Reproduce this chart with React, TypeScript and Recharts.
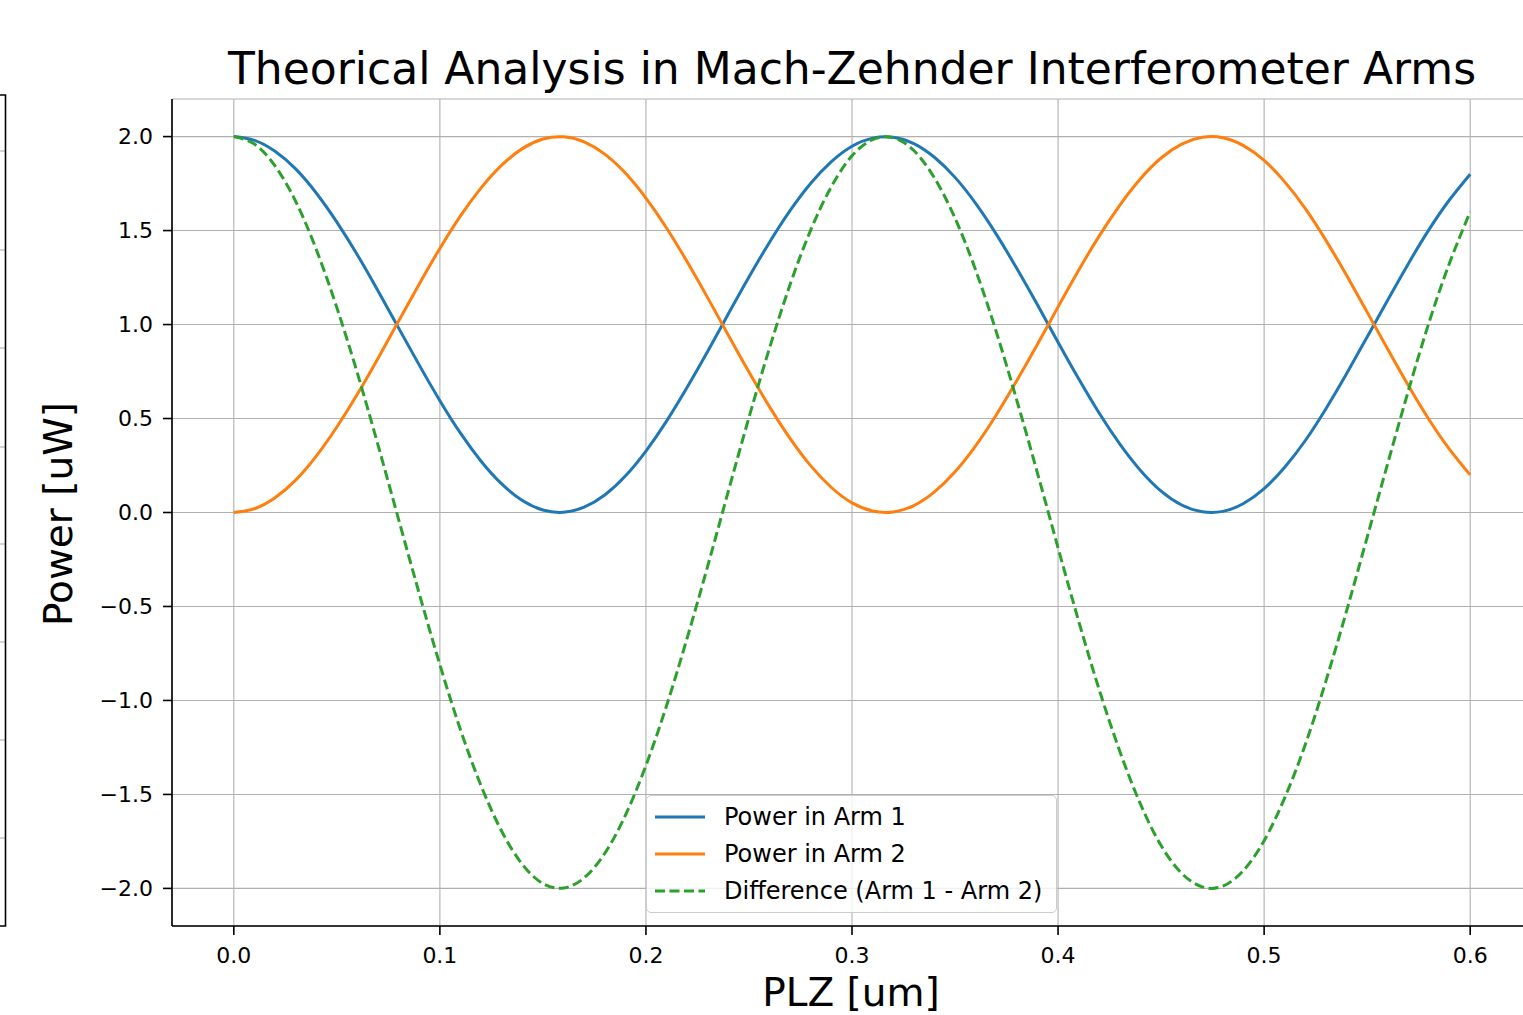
import { CartesianGrid, Line, LineChart, XAxis, YAxis } from "recharts";

// PLZ positions [um], sampled every 0.01
const plz = [
  0.0, 0.01, 0.02, 0.03, 0.04, 0.05, 0.06, 0.07, 0.08, 0.09,
  0.1, 0.11, 0.12, 0.13, 0.14, 0.15, 0.16, 0.17, 0.18, 0.19,
  0.2, 0.21, 0.22, 0.23, 0.24, 0.25, 0.26, 0.27, 0.28, 0.29,
  0.3, 0.31, 0.32, 0.33, 0.34, 0.35, 0.36, 0.37, 0.38, 0.39,
  0.4, 0.41, 0.42, 0.43, 0.44, 0.45, 0.46, 0.47, 0.48, 0.49,
  0.5, 0.51, 0.52, 0.53, 0.54, 0.55, 0.56, 0.57, 0.58, 0.59,
  0.6,
];

// values [uW]
const arm1 = [
  2.0, 1.98, 1.922, 1.828, 1.7, 1.545, 1.37, 1.179, 0.981, 0.784,
  0.595, 0.422, 0.273, 0.152, 0.064, 0.013, 0.001, 0.028, 0.093, 0.194,
  0.327, 0.486, 0.666, 0.858, 1.057, 1.253, 1.438, 1.607, 1.752, 1.867,
  1.949, 1.992, 1.997, 1.963, 1.89, 1.783, 1.645, 1.481, 1.298, 1.105,
  0.906, 0.711, 0.528, 0.364, 0.224, 0.114, 0.04, 0.004, 0.006, 0.048,
  0.127, 0.241, 0.383, 0.552, 0.738, 0.934, 1.131, 1.324, 1.505, 1.664,
  1.8,
];

const arm2 = [
  0.0, 0.02, 0.078, 0.172, 0.3, 0.455, 0.63, 0.821, 1.019, 1.216,
  1.405, 1.578, 1.727, 1.848, 1.936, 1.987, 1.999, 1.972, 1.907, 1.806,
  1.673, 1.514, 1.334, 1.142, 0.943, 0.747, 0.562, 0.393, 0.248, 0.133,
  0.051, 0.008, 0.003, 0.037, 0.11, 0.217, 0.355, 0.519, 0.702, 0.895,
  1.094, 1.289, 1.472, 1.636, 1.776, 1.886, 1.96, 1.996, 1.994, 1.952,
  1.873, 1.759, 1.617, 1.448, 1.262, 1.066, 0.869, 0.676, 0.495, 0.336,
  0.2,
];

const diff = [
  2.0, 1.96, 1.844, 1.656, 1.4, 1.09, 0.74, 0.358, -0.038, -0.432,
  -0.81, -1.156, -1.454, -1.696, -1.872, -1.974, -1.998, -1.944, -1.814, -1.612,
  -1.346, -1.028, -0.668, -0.284, 0.114, 0.506, 0.876, 1.214, 1.504, 1.734,
  1.898, 1.984, 1.994, 1.926, 1.78, 1.566, 1.29, 0.962, 0.596, 0.21,
  -0.188, -0.578, -0.944, -1.272, -1.552, -1.772, -1.92, -1.992, -1.988, -1.904,
  -1.746, -1.518, -1.234, -0.896, -0.524, -0.132, 0.262, 0.648, 1.01, 1.328,
  1.6,
];

const xTicks = [0, 0.1, 0.2, 0.3, 0.4, 0.5, 0.6];
const yTicks = [-2, -1.5, -1, -0.5, 0, 0.5, 1, 1.5, 2];

const series = [
  { key: "arm1", name: "Power in Arm 1", color: "#1f77b4", dash: undefined as string | undefined },
  { key: "arm2", name: "Power in Arm 2", color: "#ff7f0e", dash: undefined as string | undefined },
  { key: "diff", name: "Difference (Arm 1 - Arm 2)", color: "#2ca02c", dash: "10 4.5" },
];

const rows = plz.map((x, i) => ({ x, arm1: arm1[i], arm2: arm2[i], diff: diff[i] }));

const FONT = "'DejaVu Sans', sans-serif";
const GRID = "#b0b0b0";

function LegendBox() {
  return (
    <div
      style={{
        position: "absolute",
        left: 646,
        top: 795,
        width: 409,
        height: 116,
        border: "1px solid #cccccc",
        borderRadius: 5,
        background: "rgba(255,255,255,0.8)",
        fontFamily: FONT,
        fontSize: 24,
        color: "#000",
      }}
    >
      {series.map((s, i) => (
        <div key={s.key} style={{ position: "absolute", left: 8, top: 21 + i * 37 - 14, height: 28, display: "flex", alignItems: "center" }}>
          <svg width={50} height={6} style={{ display: "block" }}>
            <line x1={0} x2={50} y1={3} y2={3} stroke={s.color} strokeWidth={3} strokeDasharray={s.dash} />
          </svg>
          <span style={{ marginLeft: 19, whiteSpace: "nowrap", lineHeight: "28px" }}>{s.name}</span>
        </div>
      ))}
    </div>
  );
}

export default function App() {
  return (
    <div style={{ position: "fixed", left: 0, top: 0, width: 1523, height: 1015, overflow: "hidden", background: "#fff" }}>
      <LineChart width={1540} height={1015} data={rows} margin={{ top: 99, right: 8, bottom: 0, left: 0 }}>
        <CartesianGrid stroke={GRID} strokeWidth={1.1} xAxisId="b" yAxisId="l" />
        <XAxis
          xAxisId="b"
          dataKey="x"
          type="number"
          domain={[-0.03, 0.63]}
          ticks={xTicks}
          allowDataOverflow
          tickFormatter={(v) => Number(v).toFixed(1)}
          tick={{ fill: "#000", fontSize: 22, fontFamily: FONT }}
          tickSize={9}
          tickMargin={12}
          height={89}
          axisLine={{ stroke: "#000", strokeWidth: 1.6 }}
          tickLine={{ stroke: "#000", strokeWidth: 1.6 }}
        />
        <XAxis xAxisId="t" orientation="top" type="number" domain={[-0.03, 0.63]} tick={false} tickLine={false} height={0} axisLine={{ stroke: "#000", strokeWidth: 1.6 }} />
        <YAxis
          yAxisId="l"
          type="number"
          domain={[-2.2, 2.2]}
          ticks={yTicks}
          allowDataOverflow
          tickFormatter={(v) => Number(v).toFixed(1).replace("-", "\u2212")}
          tick={{ fill: "#000", fontSize: 22, fontFamily: FONT }}
          tickSize={9}
          tickMargin={10}
          width={172}
          axisLine={{ stroke: "#000", strokeWidth: 1.6 }}
          tickLine={{ stroke: "#000", strokeWidth: 1.6 }}
        />
        <YAxis yAxisId="r" orientation="right" type="number" domain={[-2.2, 2.2]} tick={false} tickLine={false} width={0} axisLine={{ stroke: "#000", strokeWidth: 1.6 }} />
        {series.map((s) => (
          <Line
            key={s.key}
            xAxisId="b"
            yAxisId="l"
            type="natural"
            dataKey={s.key}
            name={s.name}
            stroke={s.color}
            strokeWidth={3}
            strokeDasharray={s.dash}
            dot={false}
            isAnimationActive={false}
          />
        ))}
      </LineChart>
      <LegendBox />
      <svg width={1523} height={1015} style={{ position: "absolute", left: 0, top: 0, pointerEvents: "none" }}>
        {/* edge of the neighbouring subplot */}
        {[151, 250, 348, 447, 544, 642, 740, 838].map((y) => (
          <line key={y} x1={0} x2={5} y1={y} y2={y} stroke={GRID} strokeWidth={1.1} />
        ))}
        <polyline points="0,95 5.5,95 5.5,926 0,926" fill="none" stroke="#000" strokeWidth={1.6} />
        <text x={852} y={84} textAnchor="middle" fontFamily={FONT} fontSize={44} fill="#000">
          Theorical Analysis in Mach-Zehnder Interferometer Arms
        </text>
        <text x={851} y={1006} textAnchor="middle" fontFamily={FONT} fontSize={39} fill="#000">
          PLZ [um]
        </text>
        <text transform="translate(72,514) rotate(-90)" textAnchor="middle" fontFamily={FONT} fontSize={39} fill="#000">
          Power [uW]
        </text>
      </svg>
    </div>
  );
}
